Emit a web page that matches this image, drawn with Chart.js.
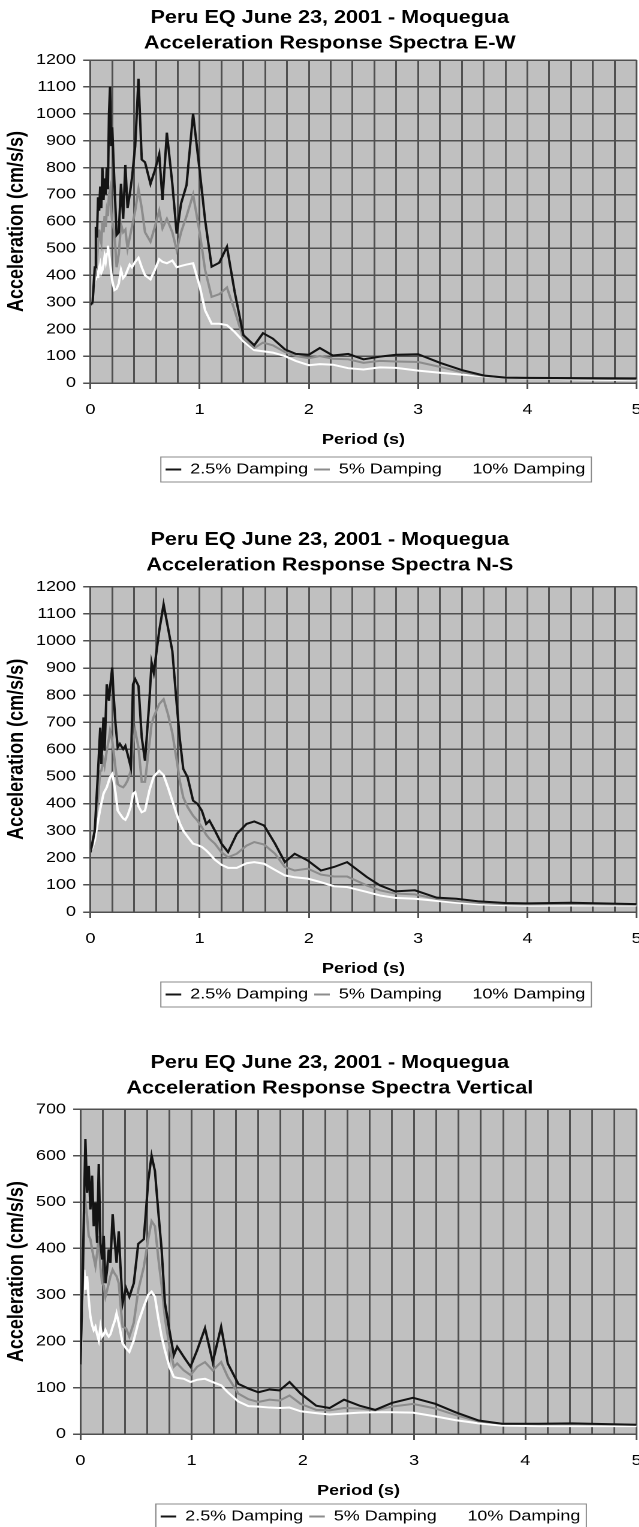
<!DOCTYPE html>
<html>
<head>
<meta charset="utf-8">
<script src="https://cdn.jsdelivr.net/npm/chart.js@4.4.1/dist/chart.umd.min.js"></script>
<style>
html, body { margin: 0; padding: 0; background: #fff; overflow: hidden; }
#page { position: relative; width: 639px; height: 1527px; overflow: hidden; }
#page canvas { position: absolute; left: 0; }
</style>
</head>
<body>
<div id="page">
  <canvas id="ew"></canvas>
  <canvas id="ns"></canvas>
  <canvas id="vt"></canvas>
</div>
<script>
const dampingLabels = ['2.5% Damping', '5% Damping', '10% Damping'];
const periodTickLabels = [0, 1, 2, 3, 4, 5];

// E-W component
const ewPeriod = [0, 0.02, 0.04, 0.05, 0.06, 0.07, 0.08, 0.09, 0.10,
  0.11, 0.12, 0.13, 0.14, 0.15, 0.16, 0.17, 0.18, 0.19, 0.20,
  0.22, 0.24, 0.26, 0.28, 0.30, 0.32, 0.34, 0.36, 0.38,
  0.41, 0.44, 0.47, 0.50,
  0.55, 0.59, 0.63, 0.66, 0.70,
  0.75, 0.79, 0.83, 0.88, 0.94,
  1.00, 1.05, 1.11, 1.18, 1.25, 1.32, 1.40,
  1.50, 1.58, 1.67, 1.78, 1.88,
  2.00, 2.10, 2.22, 2.36, 2.50, 2.65, 2.80,
  3.00, 3.20, 3.40, 3.60, 3.80,
  4.00, 4.50, 5.00];
const ewDamp25 = [290, 300, 430, 580, 540, 690, 640, 730, 650,
  800, 680, 760, 700, 800, 720, 1000, 1100, 880, 950,
  740, 550, 560, 740, 610, 810, 650, 700, 760,
  880, 1130, 830, 820,
  740, 790, 850, 680, 930,
  740, 555, 667, 735, 1000,
  790, 605, 432, 447, 506, 340, 178,
  140, 185, 165, 125, 108,
  105, 130, 102, 108, 88, 98, 105,
  107, 75, 48, 28, 20,
  19, 18, 17];
const ewDamp5 = [290, 295, 400, 470, 450, 520, 570, 540, 520,
  600, 560, 620, 580, 640, 620, 700, 720, 640, 600,
  560, 430, 480, 590, 560, 570, 500, 540, 580,
  640, 720, 650, 560,
  525, 580, 640, 575, 610,
  560, 494, 560, 620, 700,
  560, 420, 320, 330, 355, 270, 165,
  130, 150, 140, 115, 100,
  92, 100, 90, 88, 75, 82, 80,
  78, 60, 40, 27, 20,
  18, 16, 14];
const ewDamp10 = [290, 300, 385, 420, 460, 390, 420, 440, 410,
  420, 440, 470, 450, 480, 510, 480, 450, 410, 380,
  345, 350, 370, 420, 390, 400, 420, 440, 430,
  450, 465, 430, 400,
  385, 420, 460, 450, 445,
  455, 430, 435, 440, 445,
  360, 270, 220, 220, 215, 190, 155,
  122, 118, 113, 100, 82,
  66, 70, 68, 55, 50, 58, 56,
  46, 38, 31, 25, 20,
  17, 13, 10];

// N-S component
const nsPeriod = [0, 0.02, 0.04, 0.07, 0.09, 0.10, 0.12, 0.13, 0.15, 0.17,
  0.18, 0.20, 0.21, 0.23, 0.25, 0.27, 0.30, 0.32, 0.34, 0.37,
  0.39, 0.41, 0.44, 0.47, 0.50, 0.54, 0.56, 0.58, 0.63, 0.67,
  0.71, 0.75, 0.79, 0.82, 0.85, 0.89, 0.94, 0.98, 1.02, 1.06,
  1.09, 1.14, 1.20, 1.26, 1.34, 1.43, 1.50, 1.59, 1.69, 1.78,
  1.87, 1.99, 2.11, 2.23, 2.35, 2.53, 2.65, 2.79, 2.97, 3.17,
  3.35, 3.56, 3.80, 4.00, 4.40, 5.00];
const nsDamp25 = [220, 260, 300, 521, 680, 546, 718, 595, 840, 779,
  828, 902, 816, 693, 607, 620, 601, 613, 583, 534,
  840, 859, 834, 644, 558, 779, 920, 883, 1037, 1135,
  1049, 963, 767, 632, 528, 497, 411, 399, 374, 325,
  337, 300, 252, 221, 288, 325, 334, 319, 252, 184,
  215, 190, 153, 166, 184, 129, 98, 76, 80, 53,
  49, 39, 33, 32, 34, 29];
const nsDamp5 = [220, 250, 300, 423, 520, 521, 560, 540, 595, 640,
  669, 632, 600, 530, 472, 465, 460, 470, 485, 521,
  620, 669, 607, 480, 480, 620, 693, 720, 767, 785,
  730, 660, 560, 480, 423, 387, 355, 337, 313, 285,
  270, 252, 220, 202, 215, 245, 258, 249, 215, 166,
  153, 160, 138, 131, 131, 98, 80, 68, 65, 48,
  40, 33, 29, 28, 29, 27];
const nsDamp10 = [221, 240, 264, 337, 380, 399, 436, 445, 460, 485,
  497, 509, 490, 440, 374, 362, 345, 340, 355, 390,
  436, 442, 390, 368, 374, 448, 475, 500, 521, 505,
  460, 410, 360, 325, 300, 278, 252, 247, 240, 227,
  215, 193, 174, 163, 163, 180, 184, 178, 155, 135,
  128, 123, 110, 95, 92, 74, 61, 52, 49, 41,
  34, 28, 25, 23, 24, 24];

// Vertical component
const vtPeriod = [0, 0.02, 0.035, 0.045, 0.06, 0.075, 0.09, 0.105, 0.12, 0.135,
  0.15, 0.165, 0.18, 0.195, 0.21, 0.225, 0.24, 0.255, 0.27, 0.29,
  0.31, 0.325, 0.345, 0.36, 0.38, 0.41, 0.44, 0.48, 0.52, 0.57,
  0.61, 0.64, 0.67, 0.70, 0.73, 0.76, 0.80, 0.84, 0.87, 0.93,
  0.99, 1.05, 1.12, 1.19, 1.265, 1.325, 1.42, 1.51, 1.60, 1.70,
  1.79, 1.88, 1.98, 2.12, 2.24, 2.37, 2.51, 2.65, 2.80, 2.99,
  3.19, 3.37, 3.58, 3.79, 4.12, 4.42, 5.00];
const vtDamp25 = [150, 330, 520, 636, 520, 578, 484, 557, 448, 499,
  412, 582, 412, 376, 427, 325, 354, 398, 369, 474,
  412, 369, 437, 362, 282, 315, 296, 325, 410, 420,
  546, 600, 567, 480, 398, 282, 224, 170, 188, 166,
  145, 181, 228, 155, 231, 152, 108, 98, 90, 96,
  94, 112, 87, 61, 56, 74, 61, 52, 67, 78,
  65, 47, 29, 22, 22, 23, 20];
const vtDamp5 = [150, 300, 484, 500, 470, 427, 420, 398, 380, 362,
  390, 427, 360, 325, 320, 296, 310, 325, 340, 354,
  345, 340, 325, 280, 231, 228, 210, 240, 310, 360,
  420, 459, 448, 380, 320, 250, 190, 145, 152, 137,
  127, 145, 155, 137, 155, 123, 87, 75, 69, 74,
  72, 83, 65, 52, 51, 56, 55, 51, 59, 65,
  55, 41, 27, 22, 21, 21, 20];
const vtDamp10 = [150, 280, 354, 311, 340, 290, 253, 235, 224, 231,
  215, 202, 231, 210, 215, 224, 215, 210, 215, 231,
  245, 260, 239, 220, 195, 185, 177, 202, 240, 275,
  300, 307, 296, 250, 210, 180, 145, 123, 121, 119,
  112, 117, 119, 112, 105, 90, 70, 60, 59, 57,
  56, 57, 49, 45, 42, 44, 46, 47, 47, 46,
  38, 30, 23, 18, 17, 17, 17];

const lineColors = ['#141414', '#8c8c8c', '#ffffff'];
const GRID = '#505050';
const W = 547;      // logical canvas width (right edge runs past the page, like the source)
const SX = 1.2;     // the source picture is stretched sideways, so we stretch too

Chart.defaults.font.family = "'Liberation Sans', Arial, sans-serif";
Chart.defaults.color = '#000';

// grey plot area, shifted title/legend and the box round the legend
const panelPlugin = {
  id: 'panel',
  afterLayout(chart) {
    chart.titleBlock.left += 1.5;
    chart.titleBlock.right += 1.5;
    chart.legend.left += 10;
    chart.legend.right += 10;
  },
  beforeDraw(chart) {
    const a = chart.chartArea, ctx = chart.ctx;
    ctx.save();
    ctx.fillStyle = '#c0c0c0';
    ctx.fillRect(a.left, a.top, a.right - a.left, a.bottom - a.top);
    ctx.restore();
  },
  afterDraw(chart) {
    const hb = chart.legend.legendHitBoxes;
    if (!hb || !hb.length) return;
    const last = hb[hb.length - 1];
    const l = hb[0].left - 4, r = last.left + last.width + 5;
    const ctx = chart.ctx;
    ctx.save();
    ctx.strokeStyle = '#8a8a8a';
    ctx.lineWidth = 1;
    ctx.strokeRect(l, hb[0].top - 5, r - l, hb[0].height + 10);
    ctx.restore();
  }
};

function isWhole(v) {
  return periodTickLabels.some(p => Math.abs(p - v) < 1e-6);
}

function makeChart(id, top, height, titleLines, period, series, yMax, titlePadBottom, legendGap) {
  const canvas = document.getElementById(id);
  canvas.width = W;
  canvas.height = height;
  canvas.style.top = top + 'px';
  canvas.style.width = (W * SX) + 'px';
  canvas.style.height = height + 'px';

  const datasets = series.map((vals, i) => ({
    label: dampingLabels[i],
    data: period.map((t, j) => ({ x: t, y: vals[j] })),
    borderColor: lineColors[i],
    backgroundColor: lineColors[i],
    borderWidth: 2,
    pointRadius: 0,
    tension: 0,
    fill: false
  }));

  return new Chart(canvas, {
    type: 'line',
    data: { datasets: datasets },
    options: {
      responsive: false,
      devicePixelRatio: 2,
      animation: false,
      events: [],
      layout: { padding: 0 },
      scales: {
        x: {
          type: 'linear',
          min: 0,
          max: 5,
          ticks: {
            stepSize: 0.2,
            autoSkip: false,
            maxRotation: 0,
            padding: 12,
            font: { size: 15 },
            callback: v => isWhole(v) ? String(Math.round(v)) : ''
          },
          grid: {
            color: GRID,
            lineWidth: 1.5,
            tickLength: 6,
            tickColor: c => (c.tick && isWhole(c.tick.value)) ? GRID : 'rgba(0,0,0,0)'
          },
          border: { color: GRID, width: 1.5 },
          title: {
            display: true,
            text: 'Period (s)',
            font: { size: 15, weight: 'bold' },
            padding: { top: 0, bottom: legendGap }
          }
        },
        y: {
          min: 0,
          max: yMax,
          ticks: {
            stepSize: 100,
            padding: 6,
            font: { size: 15 },
            callback: v => String(v)
          },
          grid: { color: GRID, lineWidth: 1.5, tickLength: 6 },
          border: { color: GRID, width: 1.5 },
          title: {
            display: true,
            text: 'Acceleration (cm/s/s)',
            font: { size: 18, weight: 'bold', lineHeight: 1 },
            padding: { top: 5, bottom: 1 }
          }
        }
      },
      plugins: {
        title: {
          display: true,
          text: titleLines,
          font: { size: 18, weight: 'bold', lineHeight: 1.4 },
          padding: { top: 5.5, bottom: titlePadBottom }
        },
        legend: {
          position: 'bottom',
          fullSize: false,
          labels: {
            usePointStyle: true,
            pointStyle: 'line',
            pointStyleWidth: 13,
            padding: 5,
            font: { size: 15 }
          }
        },
        tooltip: { enabled: false }
      }
    },
    plugins: [panelPlugin]
  });
}

makeChart('ew', 0, 487,
  ['Peru EQ June 23, 2001 - Moquegua', 'Acceleration Response Spectra E-W'],
  ewPeriod, [ewDamp25, ewDamp5, ewDamp10], 1200, 4.1, 8);

makeChart('ns', 522, 490,
  ['Peru EQ June 23, 2001 - Moquegua', 'Acceleration Response Spectra N-S'],
  nsPeriod, [nsDamp25, nsDamp5, nsDamp10], 1200, 8.8, 4);

makeChart('vt', 1045, 489,
  ['Peru EQ June 23, 2001 - Moquegua', 'Acceleration Response Spectra Vertical'],
  vtPeriod, [vtDamp25, vtDamp5, vtDamp10], 700, 8.4, 4);
</script>
</body>
</html>
